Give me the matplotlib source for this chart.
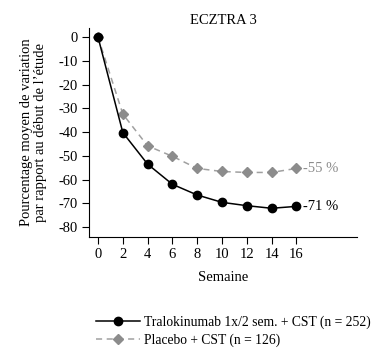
import matplotlib
matplotlib.use("Agg")
import matplotlib.pyplot as plt
from matplotlib.lines import Line2D

weeks = [0, 2, 4, 6, 8, 10, 12, 14, 16]
tralo = [0, -40.2, -53.5, -62.0, -66.5, -69.6, -71.0, -72.1, -71.3]
placebo = [0, -32.4, -45.8, -50.2, -55.3, -56.6, -57.0, -57.0, -55.3]
tralo_label = "Tralokinumab 1x/2 sem. + CST (n = 252)"
placebo_label = "Placebo + CST (n = 126)"
end_labels = ["-71 %", "-55 %"]
yticks = [0, -10, -20, -30, -40, -50, -60, -70, -80]

plt.rcParams['font.family'] = ['Liberation Serif', 'DejaVu Serif']
plt.rcParams['axes.unicode_minus'] = False
fs = 10.5

fig = plt.figure(figsize=(3.92, 3.61), dpi=100)
ax = fig.add_axes([0.227, 0.3435, 0.684, 0.5785])

grey = "#8c8c8c"
ax.plot(weeks, placebo, color="#a0a0a0", linestyle=(0, (4, 3)), linewidth=1.1,
        marker="D", markersize=5, markerfacecolor=grey, markeredgecolor=grey, zorder=2)
ax.plot(weeks, tralo, color="black", linewidth=1.1,
        marker="o", markersize=6, markerfacecolor="black", markeredgecolor="black", zorder=3)

ax.text(weeks[-1] + 0.55, tralo[-1], end_labels[0], fontsize=fs, color="black",
        va="center", ha="left")
ax.text(weeks[-1] + 0.55, placebo[-1], end_labels[1], fontsize=fs, color=grey,
        va="center", ha="left")

ax.set_xlim(-0.73, 20.9)
ax.set_ylim(-84.2, 3.8)
ax.set_xticks(weeks)
ax.set_yticks(yticks)
ax.tick_params(direction="out", length=5, width=0.8, labelsize=fs, pad=3)
for s in ["top", "right"]:
    ax.spines[s].set_visible(False)
for s in ["left", "bottom"]:
    ax.spines[s].set_linewidth(0.8)

ax.set_xlabel("Semaine", fontsize=fs, labelpad=7)
ax.set_ylabel("Pourcentage moyen de variation\npar rapport au début de l’étude",
              fontsize=fs, labelpad=8, linespacing=1.1)
ax.set_title("ECZTRA 3", fontsize=fs, pad=3)

handles = [
    Line2D([], [], color="black", linewidth=1.1, marker="o", markersize=6),
    Line2D([], [], color="#a0a0a0", linestyle=(0, (4, 3)), linewidth=1.1, marker="D",
           markersize=5, markerfacecolor=grey, markeredgecolor=grey),
]
fig.legend(handles, [tralo_label, placebo_label], loc="upper left",
           bbox_to_anchor=(0.245, 0.125), frameon=False, fontsize=9.8,
           handlelength=3.2, handletextpad=0.35, labelspacing=0.3, borderpad=0,
           borderaxespad=0)

fig.savefig("out.png", dpi=100)
